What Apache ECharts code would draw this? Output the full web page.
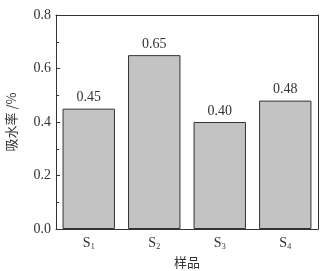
<!DOCTYPE html>
<html><head><meta charset="utf-8">
<script src="https://cdn.jsdelivr.net/npm/echarts@6/dist/echarts.min.js"></script>
<style>html,body{margin:0;padding:0;background:#fff}#c{width:327px;height:271px}</style>
</head><body><div id="c"></div>
<script>
const categories = ['S1','S2','S3','S4'];
const values = [0.45, 0.65, 0.40, 0.48];
const yTicks = [0, 0.2, 0.4, 0.6, 0.8];
const serif = '"Liberation Serif","DejaVu Serif",serif';
const chart = echarts.init(document.getElementById('c'));
const axLine = {show:true, onZero:false, lineStyle:{color:'#333', width:1}};
chart.setOption({
  animation:false,
  grid:{left:56, right:9, top:15, bottom:42, containLabel:false, outerBoundsMode:'none'},
  xAxis:[{
    type:'category', data:categories,
    axisLine:axLine, axisTick:{show:false},
    axisLabel:{
      margin:7, interval:0,
      formatter:v=>'{m|S}{s|'+v.slice(1)+'}',
      rich:{m:{fontFamily:serif,fontSize:14,color:'#333'},s:{fontFamily:serif,fontSize:8,color:'#333',verticalAlign:'bottom',padding:[7,0,0,0]}}
    },
    name:'样品', nameLocation:'middle', nameGap:27,
    nameTextStyle:{fontFamily:'"Noto Sans CJK SC"',fontSize:13,color:'#333'}
  },{
    type:'category', data:categories, position:'top',
    axisLine:axLine, axisTick:{show:false}, axisLabel:{show:false}
  }],
  yAxis:[{
    type:'value', min:0, max:0.8, interval:0.2,
    axisLine:axLine,
    axisTick:{show:true, inside:true, length:4, lineStyle:{color:'#333'}},
    minorTick:{show:true, splitNumber:2, length:3, lineStyle:{color:'#333'}},
    splitLine:{show:false},
    axisLabel:{fontFamily:serif,fontSize:14,color:'#333',margin:5,formatter:v=>v.toFixed(1)},
    name:'吸水率 /%', nameLocation:'middle', nameGap:38, nameRotate:90,
    nameTextStyle:{fontFamily:'"Noto Sans CJK SC"',fontSize:13,color:'#333'}
  },{
    type:'value', min:0, max:0.8, interval:0.2, position:'right',
    axisLine:axLine, axisTick:{show:false}, axisLabel:{show:false}, splitLine:{show:false}
  }],
  series:[{
    type:'bar', data:values, barCategoryGap:'20%',
    itemStyle:{color:'#c3c3c3', borderColor:'#333', borderWidth:1},
    label:{show:true, position:'top', distance:4, fontFamily:serif, fontSize:14, color:'#333', formatter:p=>p.value.toFixed(2)}
  }]
});
</script></body></html>
